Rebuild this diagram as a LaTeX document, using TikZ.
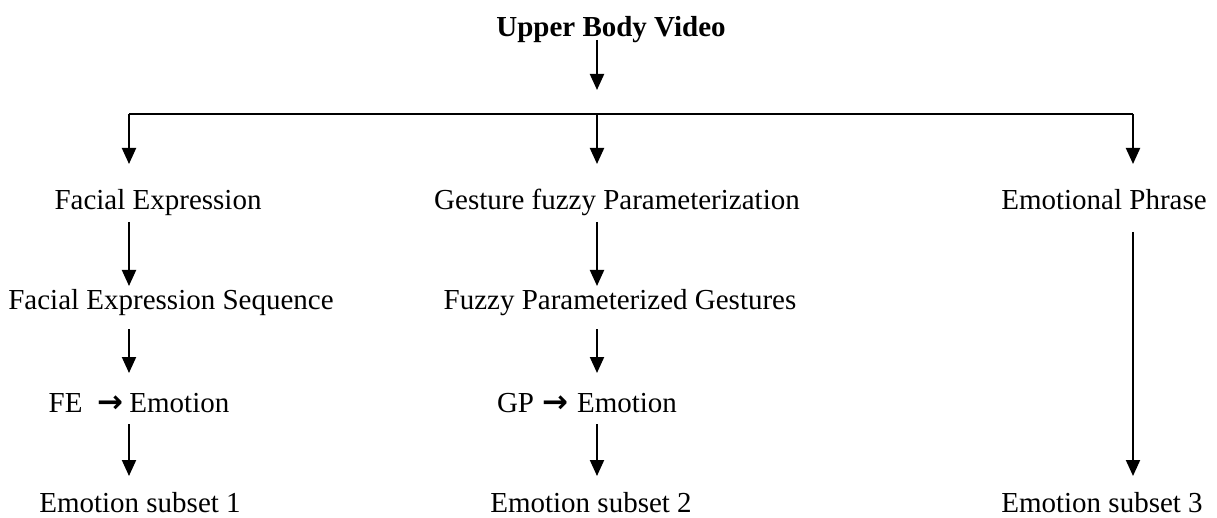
\documentclass[tikz,border=0pt]{standalone}
\usepackage{fontspec}
\setmainfont{Liberation Serif}
\newfontfamily\arrowfont{DejaVu Sans}
\newcommand{\rarr}{{\arrowfont\bfseries\fontsize{31}{34}\selectfont →}}
\usetikzlibrary{arrows.meta}
\begin{document}
\begin{tikzpicture}[x=1pt,y=-1pt,
  lbl/.style={inner sep=0pt,anchor=base,font=\fontsize{29}{34}\selectfont},
  arr/.style={line width=2pt,-{Triangle[width=14pt,length=16pt]}},
  ln/.style={line width=2pt}]
\useasboundingbox (0,0) rectangle (1217,518);
\node[lbl,font=\fontsize{29}{34}\selectfont\bfseries] (top) at (611,37) {Upper Body Video};
\node[lbl] (fe) at (158,210) {Facial Expression};
\node[lbl] (gfp) at (617,210) {Gesture fuzzy Parameterization};
\node[lbl] (ep) at (1104,210) {Emotional Phrase};
\node[lbl] (fes) at (171,310) {Facial Expression Sequence};
\node[lbl] (fpg) at (620,310) {Fuzzy Parameterized Gestures};
\node[lbl] (fee) at (139,412) {FE\hspace{15pt}\rarr\hspace{6pt}Emotion};
\node[lbl] (gpe) at (587,412) {GP\hspace{8pt}\rarr\hspace{9pt}Emotion};
\node[lbl] (es1) at (140,512) {Emotion subset 1};
\node[lbl] (es2) at (591,512) {Emotion subset 2};
\node[lbl] (es3) at (1102,512) {Emotion subset 3};
% branch coordinates
\coordinate (t0) at (597,40);
\coordinate (t1) at (597,90);
\coordinate (hl) at (129,114);
\coordinate (hm) at (597,114);
\coordinate (hr) at (1133,114);
\coordinate (l1) at (129,164);
\coordinate (m1) at (597,164);
\coordinate (r1) at (1133,164);
\draw[arr] (t0) -- (t1);
\draw[ln] (hl) -- (hr);
\draw[arr] (hl) -- (l1);
\draw[arr] (hm) -- (m1);
\draw[arr] (hr) -- (r1);
% left column
\coordinate (a1s) at (129,222);
\coordinate (a1e) at (129,286);
\coordinate (a2s) at (129,329);
\coordinate (a2e) at (129,373);
\coordinate (a3s) at (129,424);
\coordinate (a3e) at (129,476);
% middle column
\coordinate (b1s) at (597,222);
\coordinate (b1e) at (597,286);
\coordinate (b2s) at (597,329);
\coordinate (b2e) at (597,373);
\coordinate (b3s) at (597,424);
\coordinate (b3e) at (597,476);
% right column
\coordinate (c1s) at (1133,232);
\coordinate (c1e) at (1133,476);
\draw[arr] (a1s) -- (a1e);
\draw[arr] (b1s) -- (b1e);
\draw[arr] (a2s) -- (a2e);
\draw[arr] (b2s) -- (b2e);
\draw[arr] (a3s) -- (a3e);
\draw[arr] (b3s) -- (b3e);
\draw[arr] (c1s) -- (c1e);
\end{tikzpicture}
\end{document}
